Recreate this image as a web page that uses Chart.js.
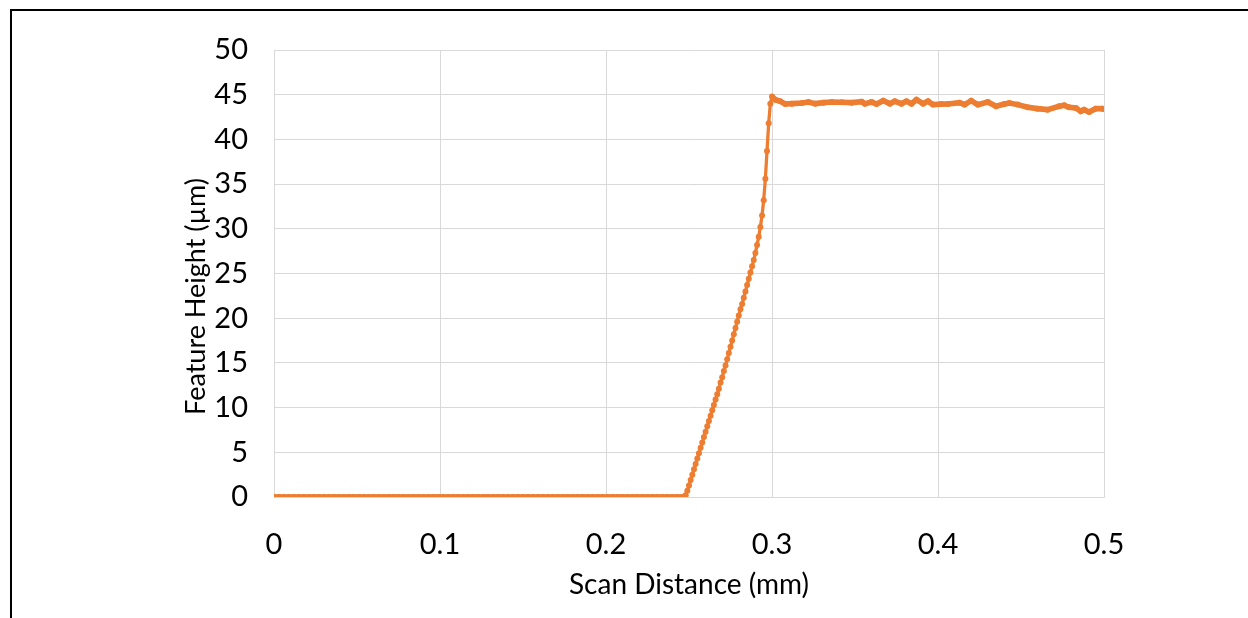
<!DOCTYPE html>
<html>
<head>
<meta charset="utf-8">
<title>Feature Height vs Scan Distance</title>
<script src="https://cdn.jsdelivr.net/npm/chart.js@4.4.1/dist/chart.umd.min.js"></script>
<style>
  html, body { margin: 0; padding: 0; overflow: hidden; background: #fff; }
  #wrap { position: relative; width: 1248px; height: 618px; }
  #frame { position: absolute; left: 10px; top: 9px; width: 2000px; height: 2000px;
           border-left: 2px solid #000; border-top: 2px solid #000; }
  #chart_box { position: absolute; left: 0; top: 0; width: 1248px; height: 618px; }
</style>
</head>
<body>
<div id="wrap">
  <div id="frame"></div>
  <div id="chart_box"><canvas id="profile_chart" width="1248" height="618"></canvas></div>
</div>
<script>
// flat substrate before the step (mm, um)
const baseX = [0, 0.003, 0.006, 0.009, 0.012, 0.015, 0.018, 0.021, 0.024, 0.027,
  0.030, 0.033, 0.036, 0.039, 0.042, 0.045, 0.048, 0.051, 0.054, 0.057,
  0.060, 0.063, 0.066, 0.069, 0.072, 0.075, 0.078, 0.081, 0.084, 0.087,
  0.090, 0.093, 0.096, 0.099, 0.102, 0.105, 0.108, 0.111, 0.114, 0.117,
  0.120, 0.123, 0.126, 0.129, 0.132, 0.135, 0.138, 0.141, 0.144, 0.147,
  0.150, 0.153, 0.156, 0.159, 0.162, 0.165, 0.168, 0.171, 0.174, 0.177,
  0.180, 0.183, 0.186, 0.189, 0.192, 0.195, 0.198, 0.201, 0.204, 0.207,
  0.210, 0.213, 0.216, 0.219, 0.222, 0.225, 0.228, 0.231, 0.234, 0.237,
  0.240, 0.243, 0.246];
const baseY = [0, 0, 0, 0, 0, 0, 0, 0, 0, 0,
  0, 0, 0, 0, 0, 0, 0, 0, 0, 0,
  0, 0, 0, 0, 0, 0, 0, 0, 0, 0,
  0, 0, 0, 0, 0, 0, 0, 0, 0, 0,
  0, 0, 0, 0, 0, 0, 0, 0, 0, 0,
  0, 0, 0, 0, 0, 0, 0, 0, 0, 0,
  0, 0, 0, 0, 0, 0, 0, 0, 0, 0,
  0, 0, 0, 0, 0, 0, 0, 0, 0, 0,
  0, 0, 0];

// the rising edge
const riseX = [0.247, 0.248, 0.249, 0.250, 0.251, 0.252, 0.253, 0.254, 0.255, 0.256,
  0.257, 0.258, 0.259, 0.260, 0.261, 0.262, 0.263, 0.264, 0.265, 0.266,
  0.267, 0.268, 0.269, 0.270, 0.271, 0.272, 0.273, 0.274, 0.275, 0.276,
  0.277, 0.278, 0.279, 0.280, 0.281, 0.282, 0.283, 0.284, 0.285, 0.286,
  0.287, 0.288, 0.289, 0.290, 0.291, 0.292, 0.293, 0.294, 0.295, 0.296,
  0.297, 0.298, 0.299, 0.300];
const riseY = [0.0, 0.2, 0.7, 1.3, 1.9, 2.5, 3.1, 3.7, 4.3, 4.9,
  5.5, 6.1, 6.7, 7.3, 7.9, 8.5, 9.1, 9.7, 10.3, 10.9,
  11.5, 12.1, 12.8, 13.4, 14.1, 14.7, 15.4, 16.1, 16.8, 17.5,
  18.2, 18.9, 19.6, 20.3, 21.0, 21.6, 22.3, 23.0, 23.7, 24.4,
  25.1, 25.8, 26.5, 27.3, 28.2, 29.1, 30.2, 31.5, 33.2, 35.6,
  38.7, 41.8, 44.0, 44.8];

// top of the feature
const topX = [0.302, 0.305, 0.308, 0.312, 0.318, 0.322, 0.326, 0.331, 0.336, 0.342,
  0.348, 0.354, 0.356, 0.360, 0.363, 0.367, 0.371, 0.374, 0.378, 0.381,
  0.384, 0.387, 0.391, 0.394, 0.397, 0.402, 0.406, 0.413, 0.416, 0.420,
  0.424, 0.430, 0.435, 0.440, 0.443, 0.448, 0.454, 0.460, 0.466, 0.473,
  0.476, 0.479, 0.483, 0.486, 0.488, 0.491, 0.495, 0.499, 0.500];
const topY = [44.44, 44.26, 43.96, 44.0, 44.07, 44.18, 44.0, 44.11, 44.18, 44.15,
  44.11, 44.22, 44.0, 44.18, 43.96, 44.33, 44.0, 44.26, 44.0, 44.26,
  44.0, 44.44, 44.0, 44.26, 43.89, 43.95, 43.96, 44.11, 43.89, 44.33,
  43.89, 44.18, 43.7, 43.95, 44.07, 43.89, 43.59, 43.44, 43.33, 43.7,
  43.81, 43.59, 43.51, 43.14, 43.33, 43.07, 43.44, 43.44, 43.4];

const xTicks = [0, 0.1, 0.2, 0.3, 0.4, 0.5];
const yTicks = [0, 5, 10, 15, 20, 25, 30, 35, 40, 45, 50];
const xTitle = "Scan Distance (mm)";
const yTitle = "Feature Height (µm)";

const toPoints = (xs, ys) => xs.map((x, i) => ({ x: x, y: ys[i] }));

var font = "Lato, 'Open Sans', sans-serif";

// y title sits a bit below the middle of the axis, as in the original
const yTitlePlugin = {
  id: "yTitle",
  afterDraw: (chart) => {
    var ctx = chart.ctx;
    var area = chart.chartArea;
    ctx.save();
    ctx.translate(area.left - 78, (area.top + area.bottom) / 2 + 23);
    ctx.rotate(-Math.PI / 2);
    ctx.fillStyle = "#000";
    ctx.font = "27px " + font;
    ctx.textAlign = "center";
    ctx.textBaseline = "middle";
    ctx.fillText(yTitle, 0, 0);
    ctx.restore();
  },
};

function make_chart(){
  var pts = toPoints(baseX, baseY)
    .concat(toPoints(riseX, riseY))
    .concat(toPoints(topX, topY));

  var orange = "#ED7D31";
  var grid = "#d9d9d9";

  var ctx = document.getElementById("profile_chart").getContext("2d");
  var myChart = new Chart(ctx, {
    type: "line",
    data: {
      datasets: [
        {
          data: pts,
          borderColor: orange,
          backgroundColor: orange,
          borderWidth: 3.3,
          pointRadius: 3,
          pointBorderWidth: 0,
          pointBackgroundColor: orange,
          tension: 0,
          fill: false,
          segment: {
            // dense markers merge into a thick band where the trace is flat
            borderWidth: (c) => {
              var slope = Math.abs((c.p1.parsed.y - c.p0.parsed.y) / (c.p1.parsed.x - c.p0.parsed.x));
              return slope < 300 ? 5.6 : 3.3;
            },
          },
        },
      ],
    },
    options: {
      responsive: false,
      animation: false,
      layout: { padding: { left: 150, top: 50, right: 144, bottom: 0 } },
      plugins: {
        legend: { display: false },
        tooltip: { enabled: false },
      },
      scales: {
        x: {
          type: "linear",
          min: 0,
          max: 0.5,
          afterBuildTicks: (axis) => { axis.ticks = xTicks.map((v) => ({ value: v })); },
          afterFit: (axis) => { axis.height = 121; },
          grid: { color: grid, lineWidth: 1, drawTicks: false },
          border: { color: grid, width: 1 },
          ticks: {
            padding: 30,
            color: "#000",
            font: { family: font, size: 29 },
            callback: (v) => (v === 0 ? "0" : v.toFixed(1)),
          },
          title: {
            display: true,
            text: xTitle,
            color: "#000",
            font: { family: font, size: 28 },
            padding: { top: 0, bottom: 16 },
          },
        },
        y: {
          type: "linear",
          min: 0,
          max: 50,
          afterBuildTicks: (axis) => { axis.ticks = yTicks.map((v) => ({ value: v })); },
          afterFit: (axis) => { axis.width = 124; },
          grid: { color: grid, lineWidth: 1, drawTicks: false },
          border: { color: grid, width: 1 },
          ticks: {
            padding: 26,
            color: "#000",
            font: { family: font, size: 29 },
          },
          title: { display: false },
        },
      },
    },
    plugins: [yTitlePlugin],
  });
}

document.onload = make_chart()
</script>
</body>
</html>
